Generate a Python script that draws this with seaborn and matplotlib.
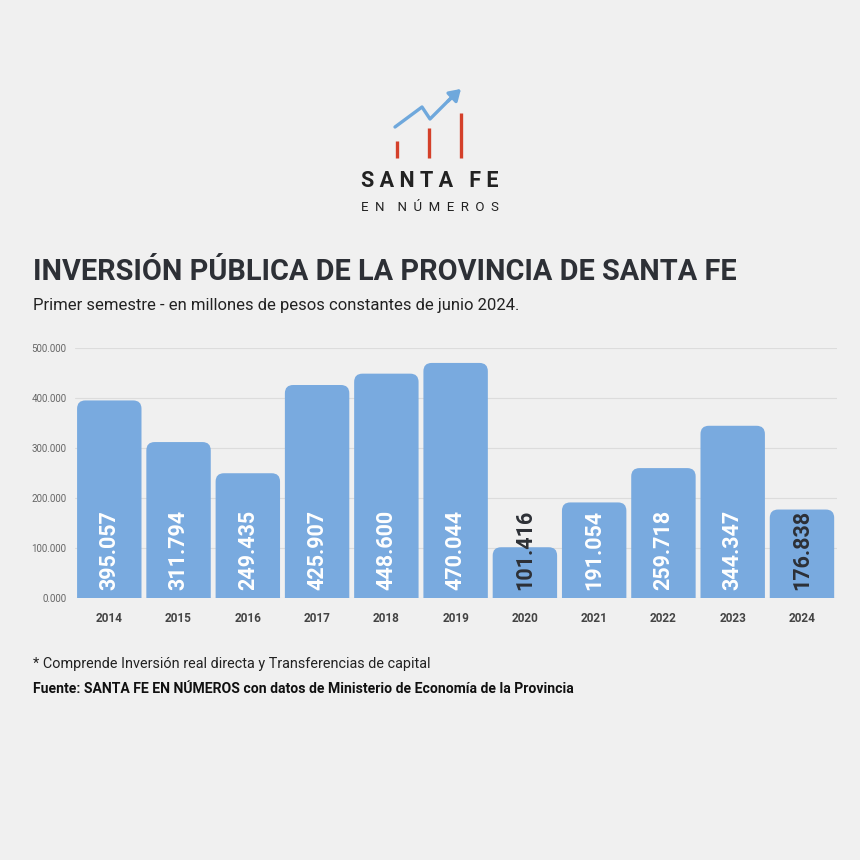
import numpy as np
import pandas as pd
import matplotlib
matplotlib.use("Agg")
import matplotlib.pyplot as plt
import seaborn as sns
from matplotlib.patches import FancyBboxPatch

# data: primer semestre, millones de pesos constantes de junio 2024
years = ["2014", "2015", "2016", "2017", "2018", "2019", "2020", "2021", "2022", "2023", "2024"]
inversion = [395057, 311794, 249435, 425907, 448600, 470044, 101416, 191054, 259718, 344347, 176838]
y_ticks = [0, 100000, 200000, 300000, 400000, 500000]

bg = "#f0f0f0"
bar_color = "#79aadf"
dark = "#2d3036"

sns.set_theme(style="white")
plt.rcParams["font.family"] = ["Roboto", "DejaVu Sans"]
plt.rcParams["figure.facecolor"] = bg
plt.rcParams["axes.facecolor"] = bg

df = pd.DataFrame({"anio": years, "valor": inversion})

fig = plt.figure(figsize=(8.6, 8.6), dpi=100)
ax = fig.add_axes([0.0868, 0.3047, 0.886, 0.2907])

sns.barplot(data=df, x="anio", y="valor", color=bar_color, width=0.93, ax=ax, saturation=1)

# rounded tops on the bars
for p in list(ax.patches):
    x0, w, h = p.get_x(), p.get_width(), p.get_height()
    p.remove()
    box = FancyBboxPatch((x0, -20000), w, h + 20000,
                         boxstyle="round,pad=0,rounding_size=0.12",
                         mutation_aspect=138000, facecolor=bar_color,
                         edgecolor="none", zorder=2)
    ax.add_patch(box)

ax.set_ylim(0, 500000)
ax.set_xlim(-0.5, len(years) - 0.5)
ax.set_yticks(y_ticks)
ax.set_yticklabels([f"{v // 1000}.000" if v else "0.000" for v in y_ticks],
                   fontsize=7, color="#666666")
ax.set_xticks(range(len(years)))
ax.set_xticklabels(years, fontsize=8.5, fontweight="bold", color="#444444")
ax.tick_params(axis="x", length=0, pad=10)
ax.tick_params(axis="y", length=0, pad=6)
ax.set_xlabel("")
ax.set_ylabel("")
ax.grid(axis="y", color="#dcdcdc", linewidth=0.8, zorder=0)
ax.set_axisbelow(True)
for s in ax.spines.values():
    s.set_visible(False)

# value labels
for i, v in enumerate(inversion):
    txt = f"{v / 1000:.3f}"
    col = "white" if v > 180000 else dark
    ax.text(i, 16000, txt, rotation=90, ha="center", va="bottom",
            fontsize=15.5, fontweight="bold", color=col, zorder=3)

# logo (axes in pixel-like units)
lax = fig.add_axes([380 / 860, 680 / 860, 100 / 860, 100 / 860])
lax.set_xlim(0, 100)
lax.set_ylim(0, 100)
lax.axis("off")
red = "#d4402a"
blue = "#6fa8dc"
lax.plot([17, 17], [22, 39], color=red, lw=2.4, solid_capstyle="butt")
lax.plot([49, 49], [22, 52], color=red, lw=2.4, solid_capstyle="butt")
lax.plot([81, 81], [22, 67], color=red, lw=2.4, solid_capstyle="butt")
lax.plot([15, 42, 50, 72], [53, 73, 61, 83], color=blue, lw=2.4, solid_capstyle="round")
lax.annotate("", xy=(83, 93), xytext=(66, 77),
             arrowprops=dict(arrowstyle="-|>,head_length=0.55,head_width=0.35",
                             color=blue, lw=2.4))

fig.text(0.5, 0.789, "S A N T A   F E", ha="center", va="center",
         fontsize=15.5, fontweight="bold", color="#222222")
fig.text(0.5, 0.759, "E  N    N  Ú  M  E  R  O  S", ha="center", va="center",
         fontsize=9.5, color="#222222")

# titles
fig.text(0.038, 0.684, "INVERSIÓN PÚBLICA DE LA PROVINCIA DE SANTA FE",
         ha="left", va="center", fontsize=20.8, fontweight="bold", color=dark)
fig.text(0.038, 0.645, "Primer semestre - en millones de pesos constantes de junio 2024.",
         ha="left", va="center", fontsize=12, color="#222222")

# notes
fig.text(0.038, 0.228, "* Comprende Inversión real directa y Transferencias de capital",
         ha="left", va="center", fontsize=10.4, color="#222222")
fig.text(0.038, 0.199, "Fuente: SANTA FE EN NÚMEROS con datos de Ministerio de Economía de la Provincia",
         ha="left", va="center", fontsize=10.1, fontweight="bold", color="#111111")

fig.savefig("out.png", dpi=100, facecolor=bg)
